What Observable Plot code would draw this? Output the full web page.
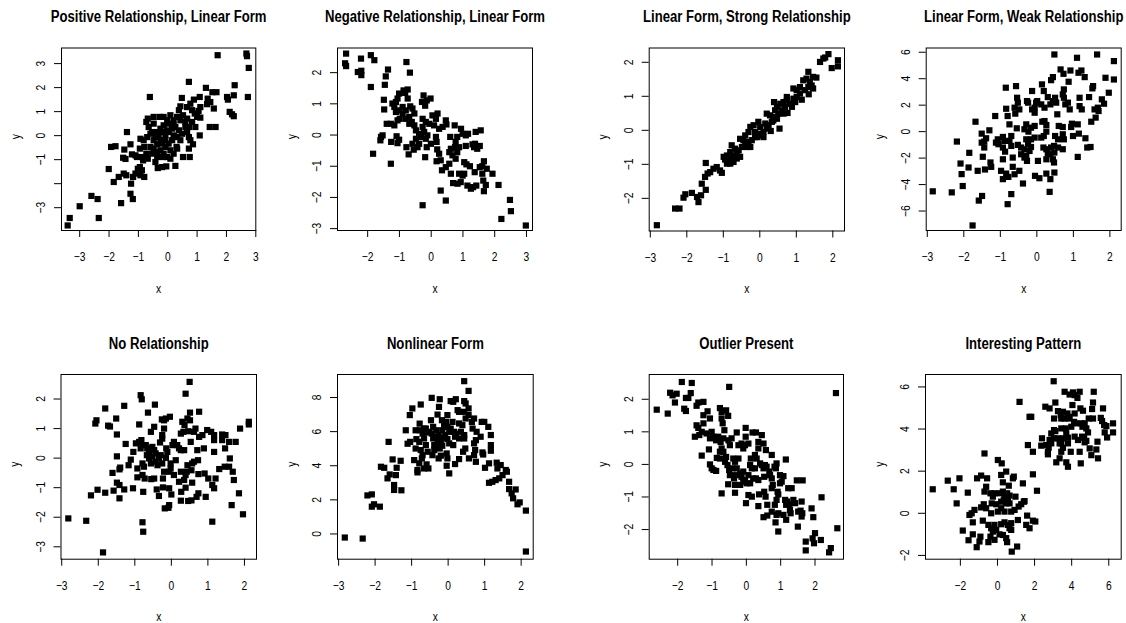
<!DOCTYPE html>
<html><head><meta charset="utf-8">
<script src="https://cdn.jsdelivr.net/npm/d3@7"></script>
<script src="https://cdn.jsdelivr.net/npm/@observablehq/plot@0.6"></script>
<style>
body{margin:0;background:#fff;}
#chart{position:relative;width:1126px;height:623px;overflow:hidden;background:#fff;}
#chart svg{position:absolute;}
</style></head><body><div id="chart"></div>
<script>
const titles = ["Positive Relationship, Linear Form","Negative Relationship, Linear Form","Linear Form, Strong Relationship","Linear Form, Weak Relationship","No Relationship","Nonlinear Form","Outlier Present","Interesting Pattern"];
const xTicks = [[-3,-2,-1,0,1,2,3],[-2,-1,0,1,2,3],[-3,-2,-1,0,1,2],[-3,-2,-1,0,1,2],[-3,-2,-1,0,1,2],[-3,-2,-1,0,1,2],[-2,-1,0,1,2],[-2,0,2,4,6]];
const yTicks = [[-3,-2,-1,0,1,2,3],[-3,-2,-1,0,1,2],[-2,-1,0,1,2],[-6,-4,-2,0,2,4,6],[-3,-2,-1,0,1,2],[0,2,4,6,8],[-2,-1,0,1,2],[-2,0,2,4,6]];
const yHiddenLabels = [[-2],[],[],[],[],[],[],[]];
const xDomains = [[-3.62,3.0],[-2.95,3.19],[-3.03,2.32],[-3.03,2.31],[-3.02,2.33],[-3.03,2.33],[-2.83,2.83],[-3.88,6.67]];
const yDomains = [[-3.95,3.65],[-3.06,2.79],[-2.96,2.42],[-7.47,6.32],[-3.42,2.83],[-1.48,9.35],[-2.91,2.76],[-2.18,6.59]];

const positiveLinear = [[1.70,3.35],[2.68,3.42],[2.70,3.31],[2.76,2.82],[0.72,2.24],[2.28,2.10],[1.30,1.99],[-0.61,1.61],[1.52,1.81],[1.66,1.81],[2.02,1.61],[2.05,1.50],[2.25,1.68],[2.73,1.61],[1.09,1.61],[0.48,1.57],[0.89,1.50],[1.36,1.54],[1.45,1.40],[1.34,1.31],[2.11,0.99],[2.19,0.89],[2.25,0.81],[1.57,1.13],[1.11,1.19],[1.05,1.03],[1.11,0.75],[0.77,1.33],[0.66,1.19],[0.83,1.06],[0.92,0.92],[1.00,0.78],[0.43,1.22],[0.38,1.06],[0.52,0.85],[0.66,0.71],[0.09,0.85],[0.20,0.64],[0.32,0.78],[-0.02,0.64],[-0.68,0.71],[-0.48,0.78],[-0.27,0.78],[1.43,0.36],[1.63,0.36],[1.09,0.01],[0.72,0.36],[0.83,0.57],[0.94,0.36],[0.60,0.36],[0.66,0.15],[0.72,-0.06],[0.77,-0.19],[0.86,-0.36],[0.72,-0.54],[0.75,-0.89],[0.52,-0.89],[0.30,-0.47],[0.15,-0.19],[0.20,0.01],[-0.02,0.22],[-0.14,0.43],[-0.25,0.29],[-0.36,0.15],[-0.48,0.50],[-0.65,0.36],[-0.59,0.08],[-0.73,0.57],[-0.70,-0.06],[-0.82,-0.19],[-0.93,-0.13],[-0.95,-0.54],[-0.80,-0.47],[-0.48,-0.19],[-0.36,-0.36],[-0.19,-0.33],[-0.08,-0.47],[0.03,-0.33],[-0.25,-0.61],[-0.14,-0.75],[-0.02,-0.89],[0.09,-0.61],[-0.36,-0.89],[-0.42,-1.10],[-0.34,-1.35],[-0.19,-1.31],[-0.05,-1.28],[0.26,-1.26],[-0.73,-0.75],[-0.88,-0.89],[-0.84,-1.03],[-0.68,-0.96],[-0.53,-0.75],[-1.10,-0.82],[-1.05,-0.89],[-1.22,-0.78],[-1.39,0.15],[-1.27,-0.36],[-1.48,-0.58],[-1.78,-0.44],[-1.93,-0.47],[-1.52,-0.92],[-1.44,-0.97],[-2.01,-1.39],[-1.67,-1.72],[-1.50,-1.58],[-1.41,-1.65],[-1.84,-1.93],[-1.18,-1.72],[-1.10,-1.58],[-1.02,-1.38],[-0.95,-1.31],[-0.88,-1.44],[-0.93,-1.65],[-0.80,-1.72],[-1.25,-2.00],[-1.27,-2.42],[-1.19,-2.64],[-1.59,-2.81],[-2.60,-2.51],[-2.39,-2.64],[-3.00,-2.94],[-3.34,-3.43],[-2.35,-3.43],[-3.41,-3.74],[-0.53,0.15],[-0.42,-0.06],[-0.31,0.01],[-0.19,0.15],[-0.08,0.01],[0.03,0.15],[0.15,0.29],[0.26,0.36],[0.38,0.22],[0.49,0.08],[0.32,-0.06],[-0.08,-0.19],[-0.25,-0.19],[-0.59,-0.47],[-0.48,-0.54],[-0.36,-0.68],[0.20,-0.75],[0.32,-0.54],[0.43,-0.19],[0.09,-0.96],[-0.16,-0.89],[0.43,0.64],[0.60,0.57],[0.20,0.43],[0.03,0.50],[-0.14,0.78]];

const negativeLinear = [[-2.68,2.61],[-2.71,2.30],[-2.68,2.21],[-2.21,2.45],[-2.31,2.02],[-2.20,2.06],[-2.20,1.92],[-1.90,2.56],[-1.79,2.40],[-0.78,2.34],[-0.67,2.00],[-1.36,2.10],[-1.43,1.88],[-1.90,1.54],[-1.46,1.61],[-1.49,1.13],[-1.48,0.82],[-0.87,1.43],[-0.74,1.46],[-0.82,1.35],[-0.74,1.17],[-1.01,1.33],[-1.06,1.17],[-1.11,1.06],[-1.22,1.01],[-1.16,0.90],[-0.24,1.27],[-0.14,1.11],[-0.02,1.17],[-0.29,1.06],[-0.19,0.94],[-1.11,0.74],[-1.01,0.79],[-0.90,0.90],[-0.80,0.79],[-0.90,0.69],[-0.66,0.92],[-0.59,0.85],[-0.53,0.69],[-1.40,0.36],[-1.27,0.36],[-1.16,0.31],[-1.06,0.47],[-0.99,0.52],[-0.80,0.52],[-0.69,0.58],[-0.61,0.42],[-0.53,0.31],[-0.48,0.15],[-0.38,0.04],[-0.69,0.36],[-0.27,0.52],[-0.17,0.42],[-0.06,0.36],[0.04,0.63],[0.15,0.52],[0.20,0.69],[0.09,0.31],[-0.27,0.26],[-0.22,0.10],[-0.12,-0.01],[-0.32,-0.06],[-0.17,-0.12],[-0.48,-0.12],[-0.38,-0.28],[-0.43,-0.39],[-0.59,-0.28],[-1.58,-0.06],[-1.53,-0.01],[-1.60,-0.17],[-1.09,-0.04],[-1.01,-0.15],[-1.06,-0.26],[-1.26,-0.22],[-0.78,-0.39],[-0.71,-0.62],[-0.55,-0.47],[-1.83,-0.60],[-1.27,-0.92],[-0.19,-0.71],[-0.14,-0.39],[-0.01,-0.28],[0.17,-0.22],[0.15,-0.06],[0.25,0.20],[0.36,0.26],[0.46,0.47],[0.48,0.34],[0.19,-0.46],[0.25,-0.60],[0.17,-0.84],[0.30,-0.81],[0.34,-1.13],[0.46,-1.03],[0.30,-1.78],[-0.27,-2.25],[0.46,-2.10],[0.57,-0.55],[0.62,-0.44],[0.67,-0.65],[0.75,-0.39],[0.57,-0.92],[0.62,-1.24],[0.60,-0.06],[0.74,0.31],[0.82,-0.06],[0.77,-0.22],[0.88,-0.39],[0.82,-0.55],[0.77,-0.76],[0.69,-1.54],[0.83,-1.56],[0.93,-1.51],[0.94,0.20],[0.99,0.04],[1.09,-0.01],[1.16,0.04],[1.09,-0.35],[1.04,-0.87],[1.11,-0.94],[0.88,-1.24],[0.99,-1.30],[1.04,-1.24],[1.14,-1.62],[1.25,-1.72],[1.32,-1.67],[1.42,-1.62],[1.22,-1.00],[1.37,-1.19],[1.40,0.10],[1.56,0.15],[1.35,-0.39],[1.53,-0.35],[1.38,-0.28],[1.53,-1.03],[1.61,-1.00],[1.66,-0.84],[1.75,-1.08],[1.61,-1.24],[1.64,-1.46],[1.66,-1.80],[1.72,-1.60],[1.93,-1.24],[2.12,-1.60],[2.48,-2.08],[2.51,-2.44],[2.21,-2.69],[2.98,-2.90],[1.30,-0.30],[1.45,-0.44]];

const strongLinear = [[-2.82,-2.79],[-2.32,-2.30],[-2.20,-2.30],[-2.04,-1.88],[-2.09,-1.98],[-1.86,-1.84],[-1.72,-1.96],[-1.68,-2.11],[-1.61,-1.91],[-1.59,-1.57],[-1.48,-1.75],[-1.48,-0.96],[-1.50,-1.37],[-1.43,-1.27],[-1.36,-1.23],[-1.27,-1.13],[-1.18,-1.08],[-1.09,-1.18],[-1.04,-1.25],[-0.95,-0.86],[-0.90,-0.98],[-0.86,-0.88],[-0.77,-0.78],[-0.81,-0.98],[-0.72,-0.93],[-0.77,-0.44],[-0.68,-0.54],[-0.63,-0.69],[-0.54,-0.78],[-0.58,-0.59],[-0.49,-0.49],[-0.54,-0.25],[-0.45,-0.29],[-0.40,-0.15],[-0.31,-0.34],[-0.26,-0.49],[-0.31,-0.05],[-0.26,0.10],[-0.17,0.15],[-0.13,-0.05],[-0.08,-0.20],[0.01,0.10],[0.10,-0.05],[-0.04,0.25],[0.15,0.20],[0.19,0.49],[0.28,0.44],[0.37,0.39],[0.33,0.25],[0.30,-0.02],[0.42,0.59],[0.47,0.69],[0.51,0.49],[0.54,0.05],[0.56,0.78],[0.39,0.83],[0.65,0.83],[0.74,0.88],[0.83,0.78],[0.76,0.51],[0.74,0.98],[0.92,0.93],[0.97,0.83],[0.88,0.69],[1.01,1.18],[0.92,1.23],[1.10,1.27],[1.15,0.90],[1.19,1.47],[1.28,1.52],[1.37,1.42],[1.42,1.32],[1.46,1.23],[1.33,1.27],[1.24,1.18],[1.33,1.72],[1.46,1.57],[1.55,1.55],[1.34,1.06],[1.65,2.01],[1.74,2.11],[1.88,2.24],[1.79,2.14],[1.97,1.83],[2.14,2.06],[2.14,1.88],[-0.40,-0.39],[-0.36,-0.49],[-0.22,-0.29],[-0.13,-0.20],[0.05,-0.15],[0.19,0.05],[0.24,0.15],[0.37,0.29],[0.47,0.34],[-0.81,-0.64],[-0.72,-0.74],[-0.63,-0.83],[-0.90,-0.74],[-0.99,-0.78],[0.10,-0.20],[-0.04,-0.10],[0.60,0.59],[0.65,0.49],[0.69,0.69],[1.01,0.98],[1.10,1.08]];

const weakLinear = [[-2.85,-4.51],[-2.33,-4.59],[-2.19,-0.75],[-2.09,-2.41],[-2.06,-3.21],[-2.03,-4.11],[-1.85,-1.60],[-1.87,-2.71],[-1.76,-7.09],[-1.68,0.75],[-1.62,-2.96],[-1.59,-5.21],[-1.50,-4.86],[-1.51,-0.15],[-1.51,-0.83],[-1.44,-0.75],[-1.39,-0.50],[-1.44,-1.20],[-1.48,-1.90],[-1.42,-2.86],[-1.30,0.10],[-1.27,-2.33],[-1.25,-2.66],[-1.14,1.18],[-1.12,-0.83],[-1.05,-0.95],[-1.07,-0.58],[-0.93,-0.40],[-0.89,-0.70],[-0.93,-1.20],[-0.87,-1.51],[-0.93,-2.09],[-0.98,-2.96],[-0.93,-3.59],[-0.84,-3.17],[-0.78,-3.42],[-0.85,3.32],[-0.84,1.73],[-0.80,1.18],[-0.75,0.55],[-0.70,-0.33],[-0.75,-0.70],[-0.70,-1.08],[-0.66,-1.96],[-0.80,-5.48],[-0.70,-4.72],[-0.61,1.81],[-0.59,1.36],[-0.66,-2.66],[-0.61,-3.22],[-0.57,3.44],[-0.54,2.56],[-0.52,2.19],[-0.48,1.68],[-0.55,0.25],[-0.52,-1.00],[-0.43,-1.20],[-0.43,-1.71],[-0.48,-2.96],[-0.38,-3.92],[-0.27,2.31],[-0.24,2.19],[-0.29,0.55],[-0.34,0.18],[-0.23,0.00],[-0.29,-0.58],[-0.24,-0.95],[-0.34,-1.33],[-0.20,-1.46],[-0.29,-1.83],[-0.27,-2.21],[-0.34,-1.96],[-0.13,3.07],[-0.13,1.68],[-0.06,1.81],[-0.02,2.19],[0.01,2.31],[-0.06,1.43],[-0.16,0.30],[-0.06,0.43],[-0.16,-0.58],[-0.06,-0.45],[-0.16,-1.16],[0.03,-2.21],[-0.05,-3.34],[0.07,-3.52],[0.14,3.57],[0.19,3.07],[0.12,2.06],[0.21,1.81],[0.15,0.75],[0.21,0.80],[0.26,0.50],[0.12,-0.45],[0.19,-0.33],[0.26,0.00],[0.18,-1.20],[0.26,-1.33],[0.30,-1.66],[0.26,-2.09],[0.26,-3.17],[0.30,2.61],[0.35,-4.55],[0.39,3.89],[0.44,4.12],[0.37,2.06],[0.44,2.31],[0.39,-1.20],[0.47,-1.08],[0.37,-1.71],[0.48,-1.58],[0.44,-2.09],[0.47,-2.33],[0.37,-3.59],[0.48,-3.09],[0.48,5.83],[0.50,2.56],[0.53,2.19],[0.56,1.31],[0.50,-0.33],[0.58,-0.58],[0.58,-1.20],[0.60,0.43],[0.65,4.70],[0.73,4.37],[0.71,2.81],[0.74,3.19],[0.74,2.56],[0.71,0.35],[0.71,-0.20],[0.74,-0.58],[0.71,-1.33],[0.78,2.06],[0.85,2.19],[0.87,3.77],[0.92,4.62],[0.90,1.68],[0.94,0.35],[0.96,0.60],[0.99,-0.33],[1.10,5.58],[1.14,4.45],[1.22,4.62],[1.17,2.56],[1.23,1.68],[1.17,1.93],[1.12,0.55],[1.15,-0.15],[1.12,-1.91],[1.31,4.12],[1.33,-0.50],[1.38,-1.20],[1.47,-1.16],[1.43,2.61],[1.49,0.75],[1.52,3.27],[1.54,3.44],[1.61,1.06],[1.58,1.68],[1.67,1.81],[1.69,1.56],[1.65,5.83],[1.78,2.44],[1.84,2.11],[1.88,4.07],[1.97,2.94],[2.11,5.33],[2.11,3.94]];

const noRelationship = [[-2.82,-2.04],[-2.33,-2.12],[-2.20,-1.26],[-2.08,1.17],[-2.05,1.28],[-2.02,-1.07],[-1.87,-3.19],[-1.81,1.68],[-1.81,-1.17],[-1.73,1.10],[-1.68,1.07],[-1.61,-0.50],[-1.58,-1.10],[-1.51,1.34],[-1.49,0.80],[-1.49,0.06],[-1.49,-0.83],[-1.42,-0.38],[-1.40,-0.32],[-1.42,-0.91],[-1.42,-1.36],[-1.29,1.77],[-1.29,-1.06],[-1.25,0.48],[-1.17,-0.24],[-1.11,-0.05],[-1.05,-1.02],[-1.04,0.21],[-0.97,0.50],[-0.93,-0.35],[-0.93,-0.65],[-0.88,1.14],[-0.84,2.13],[-0.81,1.99],[-0.88,0.55],[-0.82,0.61],[-0.79,0.44],[-0.84,0.33],[-0.79,-0.18],[-0.75,-0.29],[-0.79,-0.57],[-0.73,-0.69],[-0.77,-1.14],[-0.79,-2.17],[-0.77,-2.49],[-0.70,0.44],[-0.66,0.33],[-0.61,0.21],[-0.67,0.10],[-0.61,-0.01],[-0.56,-0.18],[-0.64,1.54],[-0.56,0.89],[-0.52,0.38],[-0.47,0.27],[-0.43,0.16],[-0.52,0.05],[-0.47,-0.69],[-0.55,-0.71],[-0.45,1.81],[-0.47,1.06],[-0.43,-0.12],[-0.38,-0.24],[-0.34,-0.01],[-0.29,0.10],[-0.40,-1.06],[-0.34,-1.28],[-0.31,0.53],[-0.25,0.66],[-0.25,0.78],[-0.20,1.00],[-0.26,1.31],[-0.20,1.28],[-0.25,-0.18],[-0.20,-0.46],[-0.23,-0.69],[-0.23,-0.99],[-0.15,1.34],[-0.14,0.33],[-0.11,0.21],[-0.15,0.01],[-0.18,-1.70],[-0.08,-1.68],[-0.06,-1.59],[-0.04,1.40],[-0.06,-0.46],[-0.02,-0.35],[-0.02,-0.18],[-0.06,-1.02],[0.00,-1.23],[0.03,0.44],[0.07,0.55],[0.12,-0.07],[0.07,-0.57],[0.16,0.44],[0.21,0.33],[0.26,0.27],[0.21,-0.80],[0.26,0.83],[0.26,-0.46],[0.27,-1.14],[0.26,-1.44],[0.30,1.23],[0.35,0.27],[0.33,0.89],[0.39,2.18],[0.36,1.12],[0.44,1.34],[0.51,1.28],[0.39,-0.57],[0.44,-0.24],[0.42,-0.46],[0.39,-1.00],[0.46,0.91],[0.53,0.55],[0.50,2.58],[0.51,1.54],[0.46,-1.45],[0.55,-1.43],[0.57,-0.18],[0.55,-0.41],[0.62,0.89],[0.62,-0.12],[0.66,1.00],[0.69,-1.31],[0.71,0.27],[0.73,-0.07],[0.74,-0.54],[0.76,1.57],[0.74,-1.19],[0.76,0.72],[0.85,0.78],[0.89,0.33],[0.91,-0.52],[0.94,-1.31],[0.98,0.95],[1.01,-0.69],[1.09,0.89],[1.17,0.78],[1.17,0.61],[1.12,-0.91],[1.17,-1.02],[1.17,0.21],[1.12,-2.15],[1.21,-0.69],[1.31,-0.37],[1.39,0.80],[1.39,0.61],[1.46,-0.29],[1.58,-0.29],[1.47,0.33],[1.48,0.78],[1.58,0.55],[1.60,-0.01],[1.65,-1.59],[1.68,-0.46],[1.71,-0.74],[1.76,0.55],[1.85,-1.19],[1.88,1.00],[1.96,-1.90],[2.12,1.23],[2.12,1.14],[0.35,-0.74],[0.57,-0.83]];

const nonlinearForm = [[-2.83,-0.21],[-2.34,-0.27],[-2.21,2.26],[-2.09,2.32],[-2.09,1.60],[-2.03,1.74],[-1.87,1.60],[-1.84,3.94],[-1.75,3.88],[-1.63,5.40],[-1.66,3.26],[-1.60,3.49],[-1.52,4.37],[-1.48,2.87],[-1.48,2.58],[-1.43,3.45],[-1.41,3.88],[-1.30,4.29],[-1.28,2.56],[-1.16,6.08],[-1.11,5.29],[-1.05,6.97],[-1.04,5.40],[-0.98,7.36],[-0.93,4.33],[-0.89,6.08],[-0.87,5.56],[-0.89,5.01],[-0.84,3.75],[-0.84,3.61],[-0.78,6.47],[-0.78,6.08],[-0.79,5.40],[-0.75,4.92],[-0.79,4.14],[-0.72,4.43],[-0.70,4.62],[-0.75,7.59],[-0.66,6.18],[-0.59,5.95],[-0.66,5.60],[-0.61,5.21],[-0.56,4.82],[-0.66,3.84],[-0.59,4.08],[-0.54,3.84],[-0.45,7.98],[-0.47,6.67],[-0.41,6.28],[-0.45,5.89],[-0.41,5.60],[-0.38,5.21],[-0.38,4.92],[-0.43,4.62],[-0.32,6.08],[-0.26,5.80],[-0.25,5.31],[-0.23,5.01],[-0.20,4.59],[-0.26,4.43],[-0.29,7.00],[-0.25,7.45],[-0.23,7.90],[-0.17,6.67],[-0.11,6.38],[-0.16,6.08],[-0.08,5.80],[-0.16,5.64],[-0.16,5.17],[-0.06,6.57],[-0.02,6.28],[0.03,5.99],[-0.02,5.56],[0.03,5.31],[-0.02,6.97],[-0.04,4.72],[-0.02,4.43],[-0.04,4.00],[0.03,3.55],[0.07,7.79],[0.14,7.75],[0.21,7.90],[0.12,6.57],[0.19,5.70],[0.16,5.99],[0.14,5.21],[0.19,4.10],[0.26,7.26],[0.30,7.16],[0.30,4.39],[0.30,6.48],[0.39,6.38],[0.35,5.99],[0.44,5.80],[0.44,8.96],[0.44,7.79],[0.48,7.65],[0.44,7.16],[0.48,6.77],[0.44,5.60],[0.47,5.01],[0.41,4.82],[0.56,7.36],[0.56,6.97],[0.56,8.39],[0.57,4.43],[0.65,6.57],[0.67,6.18],[0.71,6.77],[0.71,5.31],[0.74,4.92],[0.71,4.62],[0.76,5.50],[0.78,5.99],[0.76,4.23],[0.89,5.70],[0.92,6.57],[0.99,6.57],[0.94,4.78],[0.96,4.66],[1.01,3.88],[1.10,6.28],[1.12,4.14],[1.12,3.00],[1.21,3.06],[1.17,5.80],[1.17,5.21],[1.17,4.88],[1.30,3.16],[1.33,4.18],[1.35,3.84],[1.40,3.26],[1.44,4.04],[1.49,3.45],[1.58,3.75],[1.61,3.65],[1.67,3.06],[1.67,2.63],[1.74,2.38],[1.78,2.09],[1.85,2.61],[1.90,1.74],[1.96,1.85],[2.13,1.37],[2.13,-1.03],[-0.61,6.18],[-0.52,5.99],[-0.70,5.89],[-0.38,5.70],[-0.29,5.50],[-0.20,5.40],[0.07,6.18],[0.21,5.89],[0.30,5.60]];

const outlierPresent = [[-2.61,1.68],[-2.29,1.56],[-2.22,2.20],[-2.15,2.12],[-2.03,2.17],[-2.08,1.90],[-1.88,2.53],[-1.81,1.71],[-1.76,1.64],[-1.76,2.04],[-1.69,2.04],[-1.62,2.19],[-1.59,2.50],[-1.45,1.80],[-1.40,1.90],[-1.25,1.92],[-1.25,1.51],[-1.13,1.63],[-1.45,1.20],[-1.40,1.12],[-1.25,1.26],[-1.30,1.00],[-1.50,0.85],[-1.37,0.90],[-1.06,1.41],[-1.16,0.95],[-1.06,0.80],[-0.96,0.85],[-0.88,0.74],[-1.01,1.00],[-1.30,0.27],[-1.09,0.46],[-1.06,0.00],[-1.01,-0.12],[-0.96,-0.17],[-0.88,-0.20],[-0.77,1.73],[-0.72,1.61],[-0.72,1.41],[-0.69,1.26],[-0.59,1.66],[-0.50,2.38],[-0.53,1.49],[-0.82,0.85],[-0.75,0.69],[-0.77,0.39],[-0.72,0.49],[-0.86,0.20],[-0.77,0.18],[-0.64,1.05],[-0.67,0.80],[-0.72,-0.89],[-0.67,0.39],[-0.59,0.23],[-0.62,0.08],[-0.55,-0.02],[-0.50,-0.17],[-0.53,-0.61],[-0.52,0.74],[-0.43,0.80],[-0.48,0.59],[-0.38,0.18],[-0.33,0.08],[-0.40,-0.12],[-0.30,-0.33],[-0.36,-0.43],[-0.33,-0.63],[-0.33,-0.87],[-0.28,0.98],[-0.23,0.59],[-0.14,0.64],[-0.09,0.49],[-0.23,0.18],[-0.18,-0.28],[-0.14,-0.38],[-0.09,-0.53],[-0.18,-0.63],[-0.02,1.12],[-0.02,0.85],[-0.04,0.59],[0.06,0.64],[-0.04,-0.48],[0.01,-0.58],[-0.01,-1.19],[0.06,-0.94],[0.16,-0.99],[0.11,-0.02],[0.16,-0.12],[0.13,0.18],[0.18,0.98],[0.28,0.98],[0.25,0.29],[0.30,0.18],[0.20,-0.43],[0.28,-0.43],[0.35,-0.48],[0.11,-0.58],[0.35,0.69],[0.35,0.49],[0.40,0.03],[0.45,-0.02],[0.45,0.90],[0.37,-0.92],[0.35,-1.28],[0.50,0.64],[0.50,-0.12],[0.54,-0.02],[0.59,-0.07],[0.52,-0.38],[0.52,-0.84],[0.56,-0.99],[0.57,0.44],[0.61,-1.24],[0.50,-1.62],[0.61,-1.57],[0.67,-0.22],[0.69,-0.33],[0.74,-0.43],[0.74,0.29],[0.77,-0.63],[0.74,-0.73],[0.74,-1.45],[0.82,-0.07],[0.86,-0.12],[0.88,0.03],[0.83,-1.24],[0.88,-1.09],[0.85,-1.78],[0.91,-0.84],[0.93,-0.92],[0.93,-1.50],[0.88,-1.55],[0.93,-2.06],[0.98,-0.33],[1.03,-0.53],[0.98,-0.58],[1.08,-0.36],[1.08,-1.55],[1.15,0.15],[1.13,-1.09],[1.19,-1.14],[1.16,-1.24],[1.16,-1.70],[1.22,-0.73],[1.32,-0.73],[1.25,-1.24],[1.27,-1.40],[1.29,-1.50],[1.37,-1.09],[1.42,-1.19],[1.47,-0.49],[1.50,-1.91],[1.51,-1.45],[1.58,-1.42],[1.61,-1.14],[1.63,-1.50],[1.61,-1.60],[1.64,-0.49],[1.73,-2.37],[1.73,-2.64],[1.90,-1.35],[1.93,-2.27],[1.97,-2.42],[1.95,-1.62],[2.00,-2.11],[2.17,-2.32],[2.19,-1.01],[2.41,-2.70],[2.46,-2.57],[2.61,2.19],[2.65,-1.96],[-0.48,-0.33],[-0.28,-0.12],[-0.09,-0.22],[0.06,-0.33],[0.25,-0.12]];

const interestingPattern = [[-3.49,1.14],[-2.68,1.55],[-2.36,1.14],[-2.20,0.47],[-2.05,1.66],[-1.87,-0.82],[-1.60,0.98],[-1.56,-1.28],[-1.51,-0.08],[-1.39,0.00],[-1.33,-0.43],[-1.24,0.16],[-1.33,-1.00],[-1.12,-1.61],[-1.10,1.66],[-0.97,-1.34],[-0.92,-1.11],[-0.88,1.79],[-0.88,0.28],[-0.74,0.43],[-0.79,-0.35],[-0.70,2.84],[-0.70,1.03],[-0.61,1.26],[-0.56,1.66],[-0.61,0.24],[-0.49,-0.55],[-0.34,-0.71],[-0.25,-0.87],[-0.38,-1.11],[-0.49,-1.37],[-0.38,0.95],[-0.25,0.79],[-0.31,0.47],[-0.34,0.00],[-0.16,0.95],[-0.07,0.43],[0.02,0.08],[-0.16,-0.55],[-0.07,-0.79],[-0.16,-1.26],[0.02,2.53],[0.23,2.37],[0.20,1.82],[0.47,1.98],[0.29,1.47],[0.11,0.95],[0.29,1.03],[0.38,0.79],[0.52,0.95],[0.65,0.84],[0.20,0.55],[0.34,0.63],[0.47,0.47],[0.56,0.63],[0.65,0.47],[0.20,0.24],[0.38,0.08],[0.20,-0.52],[0.38,-0.43],[0.56,-0.55],[0.74,-0.47],[0.11,-1.00],[0.29,-1.03],[0.47,-1.18],[0.52,-1.37],[0.65,-0.71],[0.74,-0.79],[0.61,1.31],[0.77,-1.82],[0.83,1.66],[0.88,1.74],[0.74,0.08],[0.92,0.16],[0.97,0.79],[1.06,-1.58],[1.10,-0.32],[1.14,0.32],[1.28,0.43],[1.42,0.55],[1.37,1.42],[1.19,5.29],[1.46,0.58],[1.55,-0.55],[1.60,-0.11],[1.73,-0.71],[1.91,-0.35],[2.04,-0.39],[1.91,1.85],[2.13,1.07],[1.64,3.24],[1.73,4.58],[1.82,4.58],[1.91,2.92],[2.40,3.56],[2.36,3.21],[2.58,5.06],[2.63,3.24],[2.76,3.11],[2.72,2.92],[2.72,2.80],[2.81,4.98],[2.81,3.48],[2.90,3.79],[2.90,3.32],[3.05,3.56],[3.03,6.27],[3.05,3.95],[3.12,3.90],[3.12,5.26],[3.05,4.50],[3.17,2.42],[3.35,2.61],[3.44,2.92],[3.26,4.85],[3.41,4.66],[3.44,4.50],[3.53,4.82],[3.44,3.32],[3.53,3.56],[3.53,3.11],[3.44,4.03],[3.62,5.77],[3.68,4.03],[3.71,3.79],[3.80,3.59],[3.80,3.32],[3.77,4.74],[3.84,4.50],[3.71,2.42],[3.80,2.21],[3.95,2.92],[3.89,5.64],[4.07,5.74],[4.16,5.61],[4.04,5.14],[3.98,4.11],[4.13,4.34],[4.25,4.27],[4.16,3.64],[4.34,3.48],[4.31,5.48],[4.43,5.77],[4.52,4.27],[4.58,4.11],[4.70,4.27],[4.56,3.64],[4.67,3.59],[4.70,3.37],[4.43,2.92],[4.49,2.37],[4.47,4.98],[4.61,4.87],[4.79,4.03],[4.88,3.84],[4.79,3.44],[4.92,4.50],[4.97,3.08],[5.06,2.76],[5.10,4.95],[5.15,5.26],[5.19,5.77],[5.15,4.50],[5.33,3.03],[5.39,3.40],[5.42,2.61],[5.57,4.53],[5.64,4.38],[5.69,4.98],[5.75,4.19],[5.87,4.14],[5.78,3.84],[5.91,3.60],[6.23,4.27],[6.23,3.84],[4.16,4.74],[3.89,4.58],[3.62,4.50],[3.26,3.56],[3.35,3.32]];

const series = [positiveLinear, negativeLinear, strongLinear, weakLinear, noRelationship, nonlinearForm, outlierPresent, interestingPattern];

// layout (page pixels): cell origins/sizes and plot-box edges
const cellX = [0, 282, 563, 844], cellW = [282, 281, 281, 282];
const cellY = [0, 311], cellH = [311, 312];
const boxL = [61, 337, 648.7, 925.7, 60.5, 337, 648.7, 925];
const boxR = [255.3, 532, 844, 1120.7, 256, 532.7, 843, 1120.7];
const boxT = [47.5, 47.5, 47.5, 47.5, 374, 374, 374, 374];
const boxB = [230, 230, 230.5, 230, 558.7, 558.7, 558.7, 558.7];

const FONT = '"Liberation Sans", Arial, Helvetica, sans-serif';
const SQUEEZE = 0.82; // horizontal glyph compression to mimic the narrow face of the reference
const fmt = (hidden) => d => hidden.includes(d) ? "" : (d < 0 ? "\u2212" + (-d) : String(d));

const chart = document.getElementById("chart");
series.forEach((data, i) => {
  const c = i % 4, r = Math.floor(i / 4);
  const cx = cellX[c], cy = cellY[r], w = cellW[c], h = cellH[r];
  const svg = Plot.plot({
    width: w, height: h,
    marginLeft: boxL[i] - cx, marginRight: cx + w - boxR[i],
    marginTop: boxT[i] - cy, marginBottom: cy + h - boxB[i],
    x: {domain: xDomains[i]}, y: {domain: yDomains[i]},
    style: {fontFamily: FONT, fontSize: "12.5px", color: "#000", background: "transparent", overflow: "visible"},
    marks: [
      Plot.frame({stroke: "#000", strokeWidth: 1}),
      Plot.axisX({ticks: xTicks[i], tickSize: 7, tickPadding: 15, tickFormat: fmt([]), label: null, fontSize: 12.5}),
      Plot.axisY({ticks: yTicks[i], tickSize: 7, tickPadding: 9.5, tickRotate: -90, tickFormat: fmt(yHiddenLabels[i]), label: null, fontSize: 12.5}),
      Plot.dot(data, {x: d => d[0], y: d => d[1], symbol: "square", r: 3.5, fill: "#000", stroke: null}),
      Plot.text([titles[i]], {frameAnchor: "top", dy: -31, lineAnchor: "middle", fontWeight: "bold", fontSize: 16, fill: "#000"}),
      Plot.text(["x"], {frameAnchor: "bottom", dy: 58, lineAnchor: "middle", fontSize: 12.5, fill: "#000"}),
      Plot.text(["y"], {frameAnchor: "left", dx: -46, rotate: -90, lineAnchor: "middle", fontSize: 12.5, fill: "#000"})
    ]
  });
  svg.style.left = cx + "px";
  svg.style.top = cy + "px";
  chart.appendChild(svg);
  // compress each label along its reading direction, about its own anchor point
  svg.querySelectorAll("text").forEach(t => {
    if (!t.textContent) return;
    const ax = parseFloat(t.getAttribute("x")) || 0;
    const ay = parseFloat(t.getAttribute("y")) || 0;
    const tr = t.getAttribute("transform") || "";
    t.setAttribute("transform", `${tr} translate(${ax},${ay}) scale(${SQUEEZE},1) translate(${-ax},${-ay})`.trim());
  });
});
</script></body></html>
